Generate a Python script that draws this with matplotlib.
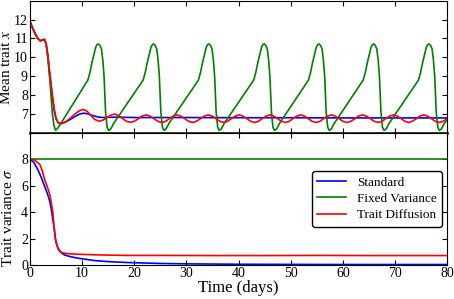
import numpy as np
import matplotlib
matplotlib.use('Agg')
import matplotlib.pyplot as plt

plt.rcParams['font.family'] = 'serif'
plt.rcParams['font.serif'] = ['Liberation Serif', 'STIXGeneral', 'DejaVu Serif']
plt.rcParams['mathtext.fontset'] = 'stix'

# ---- mean trait (top panel) ----
std_t = [0, 0.5, 1.0, 1.5, 2.0, 2.4, 2.8, 3.1, 3.4, 3.7, 4.0, 4.3, 4.7, 5.0, 5.4, 5.8,
         6.5, 7.5, 8.5, 9.5, 10.3, 11.0, 12.0, 13.0, 14.0, 15.0, 16.5, 20, 30, 40, 50, 60, 70, 80]
std_mean = [11.9, 11.55, 11.25, 11.0, 10.87, 10.92, 10.93, 10.7, 10.1, 9.3, 8.6, 7.9, 7.1, 6.75, 6.55, 6.5,
            6.55, 6.68, 6.85, 7.0, 7.05, 7.02, 6.93, 6.85, 6.82, 6.83, 6.84, 6.82, 6.82, 6.81, 6.81, 6.8, 6.8, 6.8]

fix_t = [0, 0.5, 1.0, 1.5, 2.0, 2.5, 2.8, 3.1, 3.5, 3.9, 4.3, 4.6, 4.9, 5.3, 5.8,
         11.1, 11.5, 11.9, 12.3, 12.6, 12.85, 13.1, 13.4, 13.7, 13.95, 14.2, 14.5, 14.8, 15.1, 15.5, 16.0,
         21.7, 22.1, 22.5, 22.9, 23.2, 23.45, 23.7, 24.0, 24.3, 24.55, 24.8, 25.1, 25.4, 25.7, 26.1, 26.6,
         32.3, 32.7, 33.1, 33.5, 33.8, 34.05, 34.3, 34.6, 34.9, 35.15, 35.4, 35.7, 36.0, 36.3, 36.7, 37.2,
         42.9, 43.3, 43.7, 44.1, 44.4, 44.65, 44.9, 45.2, 45.5, 45.75, 46.0, 46.3, 46.6, 46.9, 47.3, 47.8,
         53.4, 53.8, 54.2, 54.6, 54.9, 55.15, 55.4, 55.7, 56.0, 56.25, 56.5, 56.8, 57.1, 57.4, 57.8, 58.3,
         63.9, 64.3, 64.7, 65.1, 65.4, 65.65, 65.9, 66.2, 66.5, 66.75, 67.0, 67.3, 67.6, 67.9, 68.3, 68.8,
         74.5, 74.9, 75.3, 75.7, 76.0, 76.25, 76.5, 76.8, 77.1, 77.35, 77.6, 77.9, 78.2, 78.5, 78.9, 79.4, 80.0]
fix_mean = [11.9, 11.55, 11.25, 11.0, 10.87, 10.95, 10.95, 10.7, 9.8, 8.5, 7.0, 6.4, 6.15, 6.25, 6.45,
            8.8, 9.2, 9.74, 10.2, 10.53, 10.67, 10.71, 10.64, 10.45, 9.9, 9.04, 7.1, 6.3, 6.14, 6.22, 6.49,
            8.8, 9.2, 9.74, 10.2, 10.53, 10.67, 10.71, 10.64, 10.45, 9.9, 9.04, 7.1, 6.3, 6.14, 6.22, 6.49,
            8.8, 9.2, 9.74, 10.2, 10.53, 10.67, 10.71, 10.64, 10.45, 9.9, 9.04, 7.1, 6.3, 6.14, 6.22, 6.49,
            8.8, 9.2, 9.74, 10.2, 10.53, 10.67, 10.71, 10.64, 10.45, 9.9, 9.04, 7.1, 6.3, 6.14, 6.22, 6.49,
            8.8, 9.2, 9.74, 10.2, 10.53, 10.67, 10.71, 10.64, 10.45, 9.9, 9.04, 7.1, 6.3, 6.14, 6.22, 6.49,
            8.8, 9.2, 9.74, 10.2, 10.53, 10.67, 10.71, 10.64, 10.45, 9.9, 9.04, 7.1, 6.3, 6.14, 6.22, 6.49,
            8.8, 9.2, 9.74, 10.2, 10.53, 10.67, 10.71, 10.64, 10.45, 9.9, 9.04, 7.1, 6.3, 6.14, 6.22, 6.49, 6.72]

dif_t = [0, 0.5, 1.0, 1.5, 2.0, 2.4, 2.8, 3.1, 3.4, 3.7, 4.0, 4.3, 4.7, 5.0, 5.4, 5.8,
         6.3, 7.0, 7.8, 8.6, 9.4, 10.2, 10.9, 11.6, 12.4, 13.3, 14.0, 14.8, 15.6,
         16.3, 17.0, 17.8, 18.5, 19.3, 20.0, 20.8, 21.5,
         22.3, 23.0, 23.8, 24.5, 25.3, 26.0, 26.7, 27.5,
         28.2, 28.9, 29.7, 30.4, 31.2, 31.9, 32.7, 33.4,
         34.2, 34.9, 35.7, 36.4, 37.2, 37.9, 38.6, 39.4,
         40.1, 40.8, 41.6, 42.3, 43.1, 43.8, 44.5, 45.3,
         46.0, 46.7, 47.5, 48.2, 49.0, 49.7, 50.4, 51.2,
         51.9, 52.6, 53.4, 54.1, 54.9, 55.6, 56.3, 57.1,
         57.8, 58.5, 59.3, 60.0, 60.8, 61.5, 62.3, 63.0,
         63.8, 64.5, 65.3, 66.0, 66.8, 67.5, 68.2, 69.0,
         69.7, 70.4, 71.2, 71.9, 72.6, 73.3, 74.1, 74.8,
         75.5, 76.2, 77.0, 77.7, 78.5, 79.2, 80.0]
dif_mean = [11.9, 11.55, 11.25, 11.0, 10.87, 10.92, 10.95, 10.75, 10.2, 9.4, 8.7, 8.0, 7.2, 6.8, 6.55, 6.49,
            6.52, 6.62, 6.8, 7.0, 7.17, 7.25, 7.17, 6.95, 6.72, 6.62, 6.68, 6.83, 6.96,
            7.0, 6.92, 6.76, 6.62, 6.57, 6.62, 6.76, 6.90,
            6.96, 6.90, 6.76, 6.62, 6.56, 6.62, 6.76, 6.90,
            6.96, 6.90, 6.76, 6.62, 6.56, 6.62, 6.76, 6.90,
            6.96, 6.90, 6.76, 6.62, 6.56, 6.62, 6.76, 6.90,
            6.96, 6.90, 6.76, 6.62, 6.56, 6.62, 6.76, 6.90,
            6.96, 6.90, 6.76, 6.62, 6.56, 6.62, 6.76, 6.90,
            6.96, 6.90, 6.76, 6.62, 6.56, 6.62, 6.76, 6.90,
            6.96, 6.90, 6.76, 6.62, 6.56, 6.62, 6.76, 6.90,
            6.96, 6.90, 6.76, 6.62, 6.56, 6.62, 6.76, 6.90,
            6.96, 6.90, 6.76, 6.62, 6.56, 6.62, 6.76, 6.90,
            6.96, 6.90, 6.76, 6.62, 6.56, 6.62, 6.76]

# ---- trait variance (bottom panel) ----
std_vt = [0, 0.7, 1.5, 2.2, 2.8, 3.3, 3.8, 4.1, 4.4, 4.7, 4.9, 5.2, 5.5, 6.0, 6.6, 7.5, 9.2, 12.4, 15, 18.8,
          25, 30, 40, 50, 60, 70, 80]
std_var = [8.0, 7.8, 7.24, 6.6, 5.97, 5.45, 4.83, 4.2, 3.43, 2.6, 1.9, 1.45, 1.14, 0.92, 0.76, 0.65, 0.51,
           0.33, 0.25, 0.18, 0.11, 0.08, 0.05, 0.04, 0.03, 0.03, 0.03]
fix_vt = [0, 80]
fix_var = [8.0, 8.0]
dif_vt = [0, 0.9, 1.9, 2.4, 2.8, 3.3, 3.8, 4.1, 4.4, 4.6, 4.8, 5.1, 5.4, 6.0, 7.0, 9.2, 13, 18.8, 25, 35,
          45, 55, 65, 80]
dif_var = [8.0, 7.95, 7.62, 7.1, 6.48, 5.95, 5.34, 4.7, 3.94, 3.0, 2.16, 1.6, 1.27, 0.94, 0.86, 0.81, 0.76,
           0.72, 0.72, 0.71, 0.71, 0.72, 0.71, 0.71]

xticks = [0, 10, 20, 30, 40, 50, 60, 70, 80]
mean_ticks = [7, 8, 9, 10, 11, 12]
var_ticks = [0, 2, 4, 6, 8]

fig = plt.figure(figsize=(4.54, 2.99), dpi=100)
ax1 = fig.add_axes([0.066, 0.555, 0.919, 0.443])
ax2 = fig.add_axes([0.066, 0.114, 0.919, 0.441], sharex=ax1)

lw = 1.2
ax1.plot(std_t, std_mean, color='b', lw=lw)
ax1.plot(fix_t, fix_mean, color='g', lw=lw)
ax1.plot(dif_t, dif_mean, color='r', lw=lw)
ax1.set_ylim(6, 13)
ax1.set_yticks(mean_ticks)
ax1.set_ylabel(r'Mean trait $\overline{x}$', fontsize=11)
ax1.yaxis.set_label_coords(-0.036, 0.5)
ax1.tick_params(labelbottom=False)
ax1.spines['bottom'].set_linewidth(1.8)

ax2.plot(std_vt, std_var, color='b', lw=lw, label='Standard')
ax2.plot(fix_vt, fix_var, color='g', lw=lw, label='Fixed Variance')
ax2.plot(dif_vt, dif_var, color='r', lw=lw, label='Trait Diffusion')
ax2.set_ylim(0, 10)
ax2.set_yticks(var_ticks)
ax2.set_xlim(0, 80)
ax2.set_xticks(xticks)
ax2.set_xlabel('Time (days)', fontsize=12, labelpad=0)
ax2.set_ylabel(r'Trait variance $\sigma$', fontsize=11)
ax2.yaxis.set_label_coords(-0.036, 0.36)
ax2.legend(loc='center right', fontsize=9.5, fancybox=True, framealpha=1,
           edgecolor='k', handlelength=2.2, borderaxespad=0.4, labelspacing=0.3)

for ax in (ax1, ax2):
    ax.tick_params(direction='in', top=True, right=True, labelsize=10, length=3.5, pad=1.5)
    ax.set_facecolor('white')

fig.savefig('out.png', dpi=100)
